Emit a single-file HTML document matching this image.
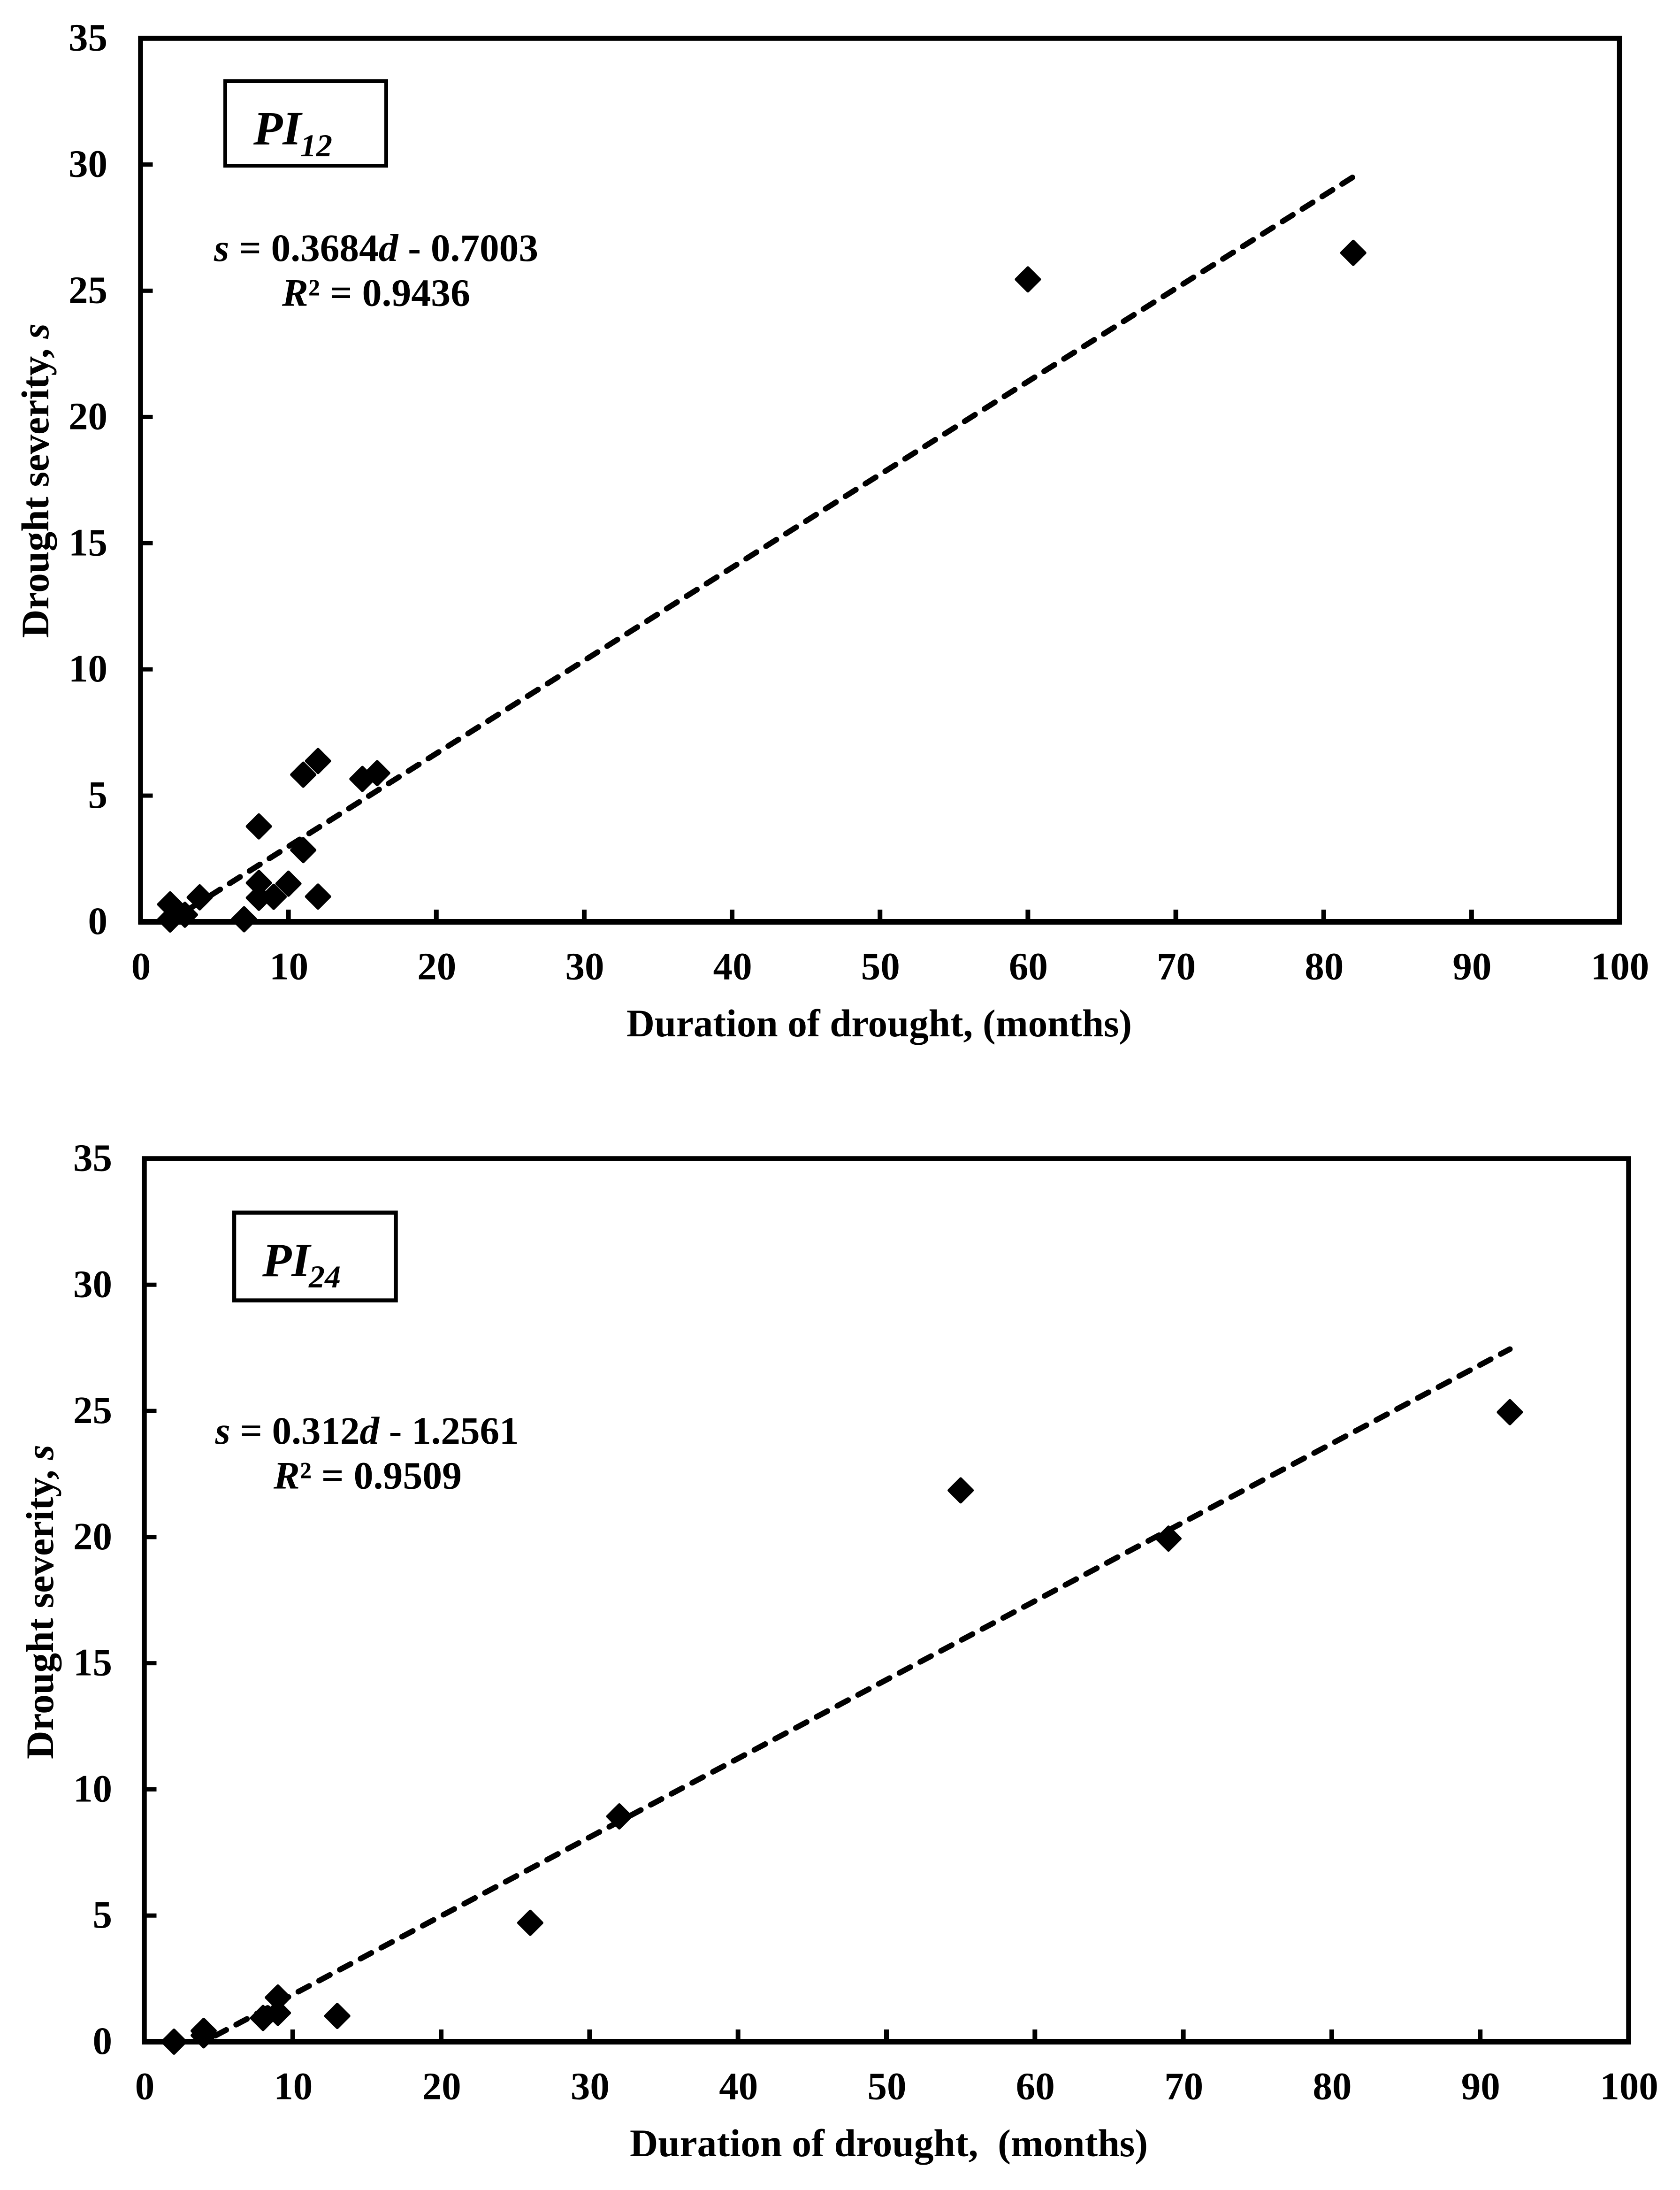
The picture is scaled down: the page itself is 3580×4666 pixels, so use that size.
<!DOCTYPE html>
<html lang="en">
<head>
<meta charset="utf-8">
<title>Drought severity vs duration</title>
<style>
html,body{margin:0;padding:0;background:#fff;}
svg{display:block;}
text{font-family:"Liberation Serif",serif;font-weight:bold;fill:#000;}
.it{font-style:italic;}
</style>
</head>
<body>
<svg id="figure" xmlns="http://www.w3.org/2000/svg" width="3580" height="4666" viewBox="0 0 3580 4666">
  <rect x="0" y="0" width="3580" height="4666" fill="#fff"/>
  <defs>
    <clipPath id="clip-pi12"><rect x="299.5" y="81.6" width="3151.5" height="1882.4"/></clipPath>
    <clipPath id="clip-pi24"><rect x="307.5" y="2468.5" width="3163" height="1881.5"/></clipPath>
  </defs>

  <g id="chart-pi12">
    <text transform="translate(103,1359) rotate(-90)" font-size="83" textLength="670" lengthAdjust="spacingAndGlyphs">Drought severity, <tspan class="it">s</tspan></text>
    <text x="1335" y="2208" font-size="83" textLength="1077" lengthAdjust="spacingAndGlyphs">Duration of drought, (months)</text>
    <rect x="480" y="173" width="343" height="180" fill="#fff" stroke="#000" stroke-width="8"/>
    <text x="540" y="307.5" font-size="102" class="it">PI</text>
    <text x="640" y="333" font-size="68" class="it">12</text>
    <text x="456" y="556" font-size="83" textLength="691" lengthAdjust="spacingAndGlyphs"><tspan class="it">s</tspan> = 0.3684<tspan class="it">d</tspan> - 0.7003</text>
    <text x="601" y="651.5" font-size="83" textLength="401" lengthAdjust="spacingAndGlyphs"><tspan class="it">R</tspan>² = 0.9436</text>
  </g>

  <g id="chart-pi24">
    <text transform="translate(113,3748) rotate(-90)" font-size="83" textLength="670" lengthAdjust="spacingAndGlyphs">Drought severity, <tspan class="it">s</tspan></text>
    <text x="1342" y="4594" font-size="83" textLength="1104" lengthAdjust="spacingAndGlyphs" xml:space="preserve">Duration of drought,  (months)</text>
    <rect x="499" y="2583.6" width="344.5" height="187" fill="#fff" stroke="#000" stroke-width="8.5"/>
    <text x="559" y="2719" font-size="102" class="it">PI</text>
    <text x="658" y="2743" font-size="68" class="it">24</text>
    <text x="458.5" y="3076" font-size="83" textLength="647" lengthAdjust="spacingAndGlyphs"><tspan class="it">s</tspan> = 0.312<tspan class="it">d</tspan> - 1.2561</text>
    <text x="583" y="3171.5" font-size="83" textLength="401" lengthAdjust="spacingAndGlyphs"><tspan class="it">R</tspan>² = 0.9509</text>
  </g>
</svg>

<script>
const xTickLabels = [0, 10, 20, 30, 40, 50, 60, 70, 80, 90, 100];
const yTickLabels = [0, 5, 10, 15, 20, 25, 30, 35];

const pi12Duration = [2, 2, 3, 4, 7, 8, 8, 8, 9, 10, 11, 11, 12, 12, 15, 16, 60, 82];
const pi12Severity = [0.69, 0.09, 0.28, 0.97, 0.1, 3.78, 1.54, 0.95, 0.99, 1.51, 2.84, 5.83, 6.37, 1.0, 5.66, 5.89, 25.45, 26.5];
const pi12TrendSlope = 0.3684;
const pi12TrendIntercept = -0.7003;
const pi12TrendRange = [2, 82];

const pi24Duration = [2, 4, 4, 8, 9, 9, 13, 26, 32, 55, 69, 92];
const pi24Severity = [0, 0.43, 0.25, 0.94, 1.14, 1.75, 1.02, 4.71, 8.93, 21.85, 19.94, 24.95];
const pi24TrendSlope = 0.312;
const pi24TrendIntercept = -1.2561;
const pi24TrendRange = [2, 92];

const SVG_NS = 'http://www.w3.org/2000/svg';
const X_MAX = 100;
const Y_MAX = 35;

function make(tag, attrs) {
  const el = document.createElementNS(SVG_NS, tag);
  for (const k in attrs) el.setAttribute(k, attrs[k]);
  return el;
}

function drawChart(cfg) {
  const host = document.getElementById(cfg.hostId);
  const sx = v => cfg.left + (v / X_MAX) * (cfg.right - cfg.left);
  const sy = v => cfg.bottom - (v / Y_MAX) * (cfg.bottom - cfg.top);

  // trend line, behind the frame
  const s0 = cfg.slope * cfg.range[0] + cfg.intercept;
  const s1 = cfg.slope * cfg.range[1] + cfg.intercept;
  const trend = make('line', {
    x1: sx(cfg.range[0]), y1: sy(s0), x2: sx(cfg.range[1]), y2: sy(s1),
    stroke: '#000', 'stroke-width': 12, 'stroke-dasharray': '26 24',
    'stroke-linecap': 'round', 'clip-path': 'url(#' + cfg.clipId + ')'
  });
  
  
  host.appendChild(trend);

  // plot frame
  const frame = make('rect', {
    x: sx(0), y: sy(Y_MAX), width: sx(X_MAX) - sx(0), height: sy(0) - sy(Y_MAX),
    fill: 'none', stroke: '#000', 'stroke-width': 10.5
  });
  
  
  host.appendChild(frame);

  const xAxisLine = make('line', {
    x1: sx(0) - 5, y1: sy(0), x2: sx(X_MAX) + 5, y2: sy(0),
    stroke: '#000', 'stroke-width': 12
  });
  
  
  host.appendChild(xAxisLine);

  // x ticks and labels
  xTickLabels.forEach(v => {
    if (v > 0 && v < X_MAX) {
      const t = make('line', {
        x1: sx(v), y1: sy(0), x2: sx(v), y2: sy(0) - 26,
        stroke: '#000', 'stroke-width': 10
      });
      
      
      host.appendChild(t);
    }
    const lab = make('text', {
      x: sx(v) + 1, y: sy(0) + 122.5, 'font-size': 83, 'text-anchor': 'middle'
    });
    
    
    lab.textContent = String(v);
    host.appendChild(lab);
  });

  // y ticks and labels
  yTickLabels.forEach(v => {
    if (v > 0 && v < Y_MAX) {
      const t = make('line', {
        x1: sx(0), y1: sy(v), x2: sx(0) + 26, y2: sy(v),
        stroke: '#000', 'stroke-width': 9
      });
      
      
      host.appendChild(t);
    }
    const lab = make('text', {
      x: cfg.left - cfg.yLabelGap, y: sy(v) + 26, 'font-size': 83, 'text-anchor': 'end'
    });
    
    
    lab.textContent = String(v);
    host.appendChild(lab);
  });

  // data points: rounded diamonds
  cfg.durations.forEach((d, i) => {
    const cx = sx(d);
    const cy = sy(cfg.severities[i]);
    const h = 25;
    const pts = [[cx, cy - h], [cx + h, cy], [cx, cy + h], [cx - h, cy]]
      .map(p => p.join(',')).join(' ');
    const marker = make('polygon', {
      points: pts, fill: '#000', stroke: '#000',
      'stroke-width': 6, 'stroke-linejoin': 'round'
    });
    
    
    host.appendChild(marker);
  });
}

drawChart({
  hostId: 'chart-pi12', clipId: 'clip-pi12',
  left: 299.5, right: 3451, top: 81.6, bottom: 1964, yLabelGap: 70.5,
  durations: pi12Duration, severities: pi12Severity,
  slope: pi12TrendSlope, intercept: pi12TrendIntercept, range: pi12TrendRange
});
drawChart({
  hostId: 'chart-pi24', clipId: 'clip-pi24',
  left: 307.5, right: 3470.5, top: 2468.5, bottom: 4350, yLabelGap: 68.5,
  durations: pi24Duration, severities: pi24Severity,
  slope: pi24TrendSlope, intercept: pi24TrendIntercept, range: pi24TrendRange
});
</script>
</body>
</html>
